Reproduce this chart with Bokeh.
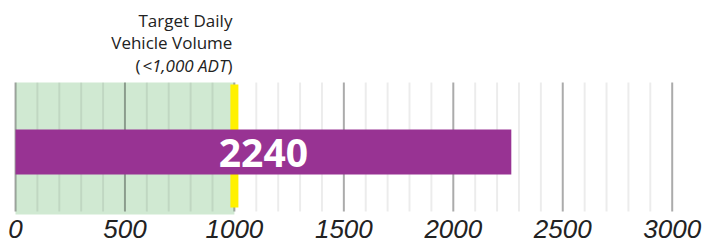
from bokeh.plotting import figure
from bokeh.models import Range1d
from bokeh.core.properties import value
from bokeh.embed import file_html
from bokeh.resources import INLINE

# --- data -------------------------------------------------------------
major_ticks = [0, 500, 1000, 1500, 2000, 2500, 3000]
tick_labels = ["0", "500", "1000", "1500", "2000", "2500", "3000"]
minor_ticks = [100, 200, 300, 400, 600, 700, 800, 900, 1100, 1200, 1300, 1400,
               1600, 1700, 1800, 1900, 2100, 2200, 2300, 2400, 2600, 2700, 2800, 2900]
target_volume = 1000
bar_volume = 2265          # length of the bar as drawn
bar_label = "2240"         # printed value
annotation_lines = ["Target Daily", "Vehicle Volume"]
annotation_italic = "<1,000 ADT"

FONT = "Open Sans"
TICK_FONT = "Liberation Sans"
W, H = 705, 243
PX_PER_UNIT = 0.2189
X0_PX = 15

p = figure(width=W, height=H, output_backend="svg", toolbar_location=None,
           x_range=Range1d(-X0_PX / PX_PER_UNIT, (W - X0_PX) / PX_PER_UNIT),
           y_range=Range1d(H, 0),
           x_axis_location=None, y_axis_location=None,
           min_border=0, min_border_left=0, min_border_right=0,
           min_border_top=0, min_border_bottom=0)
p.outline_line_color = None
p.grid.visible = False
p.background_fill_color = "white"
p.border_fill_color = "white"

GRID_TOP, GRID_BOT = 82, 211

# green target zone
p.quad(left=[0], right=[target_volume], top=[GRID_TOP], bottom=[214],
       fill_color="#d0e9d2", line_color=None)

# gridlines
p.segment(x0=minor_ticks, x1=minor_ticks, y0=[GRID_TOP] * len(minor_ticks),
          y1=[GRID_BOT] * len(minor_ticks), line_color="black", line_alpha=0.075,
          line_width=2)
p.segment(x0=major_ticks, x1=major_ticks, y0=[GRID_TOP] * len(major_ticks),
          y1=[GRID_BOT] * len(major_ticks), line_color="black", line_alpha=0.33,
          line_width=2)

# yellow target marker
p.segment(x0=[target_volume], x1=[target_volume], y0=[84], y1=[207],
          line_color="#fff100", line_width=8)

# purple bar
p.quad(left=[0], right=[bar_volume], top=[129], bottom=[174],
       fill_color="#983393", line_color=None)
p.text(x=[bar_volume / 2], y=[152], text=[bar_label], text_color="white",
       text_font=value(FONT), text_font_style="bold", text_font_size="39px",
       text_align="center", text_baseline="middle")

# tick labels
p.text(x=major_ticks, y=[228.5] * len(major_ticks), text=tick_labels,
       text_color="#222222", text_font=value(TICK_FONT), text_font_style="italic",
       text_font_size="26px", text_align="center", text_baseline="middle")

# annotation
ANN = dict(text_color="#222222", text_font=value(FONT), text_font_size="17px",
           text_align="right", text_baseline="middle")
p.text(x=[target_volume] * 2, y=[19.5, 42], text=annotation_lines, x_offset=-2, **ANN)
p.text(x=[target_volume], y=[64.5], text=[")"], x_offset=-2, **ANN)
p.text(x=[target_volume], y=[64.5], text=[annotation_italic], x_offset=-7,
       text_font_style="italic", **ANN)
p.text(x=[target_volume], y=[64.5], text=["("], x_offset=-94, **ANN)

open("out.html", "w").write(file_html(p, INLINE))
